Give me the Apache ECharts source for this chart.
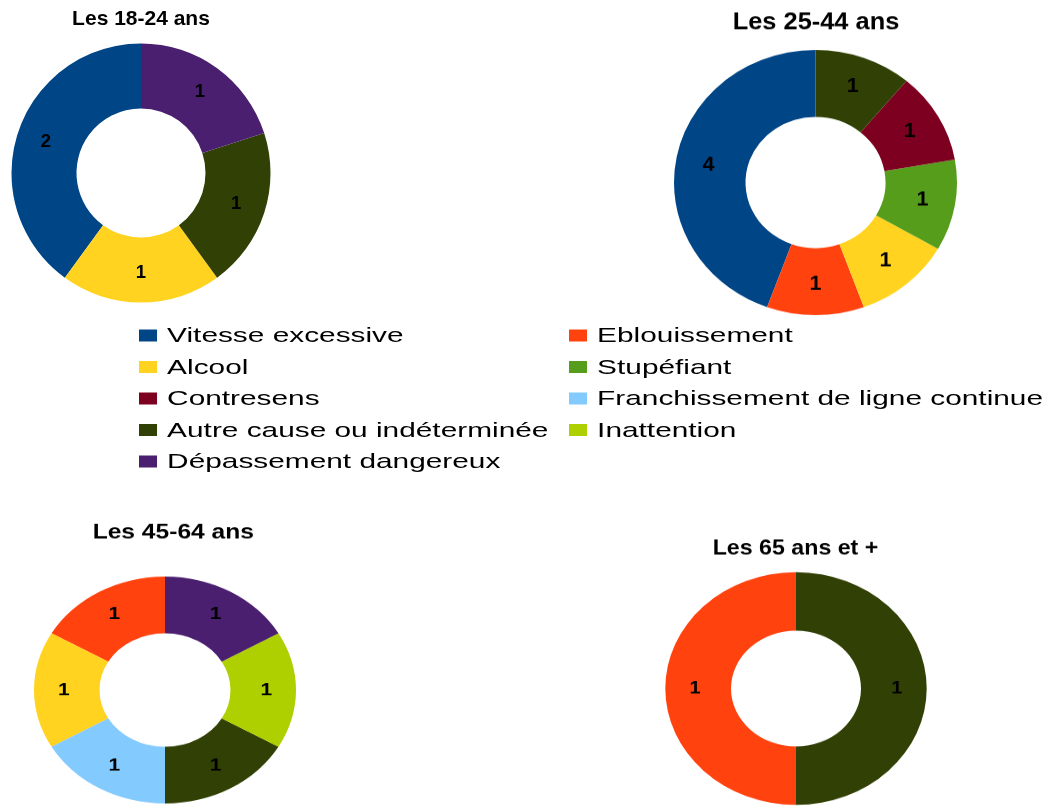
<!DOCTYPE html>
<html><head><meta charset="utf-8">
<script src="https://cdn.jsdelivr.net/npm/echarts@6/dist/echarts.min.js"></script>
<style>
html,body{margin:0;padding:0;background:#fff;}
#wrap{position:relative;width:1048px;height:807px;overflow:hidden;background:#fff;}
.layer{position:absolute;left:0;top:0;width:1048px;height:960px;pointer-events:none;}
</style></head><body>
<div id="wrap">
  <div id="c1" class="layer"></div>
  <div id="c2" class="layer"></div>
  <div id="c3" class="layer"></div>
  <div id="c4" class="layer"></div>
</div>
<script>
// ---- DATA ----
const categories = [
  'Vitesse excessive', 'Eblouissement', 'Alcool', 'Stupéfiant', 'Contresens',
  'Franchissement de ligne continue', 'Autre cause ou indéterminée', 'Inattention',
  'Dépassement dangereux'
];
const titles = ['Les 18-24 ans', 'Les 25-44 ans', 'Les 45-64 ans', 'Les 65 ans et +'];
const values18to24 = [2, 0, 1, 0, 0, 0, 1, 0, 1];
const values25to44 = [4, 1, 1, 1, 1, 0, 1, 0, 0];
const values45to64 = [0, 1, 1, 0, 0, 1, 1, 1, 1];
const values65plus = [0, 1, 0, 0, 0, 0, 1, 0, 0];

// ---- STYLE / LAYOUT ----
const colors = ['#004586', '#ff420e', '#ffd320', '#579d1c', '#7e0021', '#83caff', '#314004', '#aecf00', '#4b1f6f'];
const FONT = 'Liberation Sans, Arial, sans-serif';
const layouts = [
  { el: 'c1', values: values18to24, cx: 141,   cy: 173,   r0: 64.5, r: 129.5, k: 1,     titleX: 141,   titleY: 19,  titleSize: 21,   labelSize: 18.5, legend: true },
  { el: 'c2', values: values25to44, cx: 815.5, cy: 182.5, r0: 70,   r: 141.5, k: 0.937, titleX: 816,   titleY: 12,  titleSize: 25.4, labelSize: 21.5 },
  { el: 'c3', values: values45to64, cx: 165,   cy: 690,   r0: 65.5, r: 131,   k: 0.866, titleX: 173.3, titleY: 508, titleSize: 24.6, labelSize: 21 },
  { el: 'c4', values: values65plus, cx: 796,   cy: 688.5, r0: 65,   r: 130.7, k: 0.89,  titleX: 795.5, titleY: 532, titleSize: 23.2, labelSize: 20 }
];

function legendGraphic() {
  const colX = [139, 569];
  const y0 = 335.5, gap = 31.5, stretch = 1.42;
  return categories.map((name, i) => ({
    type: 'group',
    x: colX[i % 2],
    y: y0 + Math.floor(i / 2) * gap,
    scaleX: stretch,
    children: [
      { type: 'rect', shape: { x: 0, y: -6, width: 12.7, height: 12 }, style: { fill: colors[i] } },
      { type: 'text', x: 19.8, y: 1,
        style: { text: name, fontSize: 21, fontFamily: FONT, fill: '#000', align: 'left', verticalAlign: 'middle' } }
    ]
  }));
}

layouts.forEach((L, idx) => {
  const dom = document.getElementById(L.el);
  if (L.k !== 1) {
    dom.style.transformOrigin = '0 ' + L.cy + 'px';
    dom.style.transform = 'scaleY(' + L.k + ')';
  }
  const chart = echarts.init(dom, null, { renderer: 'canvas' });
  const data = categories
    .map((name, i) => ({ name: name, value: L.values[i], itemStyle: { color: colors[i] } }))
    .filter(d => d.value > 0);
  const option = {
    backgroundColor: 'transparent',
    animation: false,
    title: {
      text: titles[idx],
      left: L.titleX, top: L.titleY, padding: 0,
      textAlign: 'center', textVerticalAlign: 'middle',
      textStyle: { fontFamily: FONT, fontWeight: 'bold', fontSize: L.titleSize, color: '#000' }
    },
    series: [{
      type: 'pie',
      center: [L.cx, L.cy],
      radius: [L.r0, L.r],
      startAngle: 90,
      clockwise: false,
      avoidLabelOverlap: false,
      silent: true,
      itemStyle: { borderWidth: 0, borderRadius: 0 },
      label: {
        show: true, position: 'inside', formatter: '{c}',
        fontFamily: FONT, fontWeight: 'bold', fontSize: L.labelSize, color: '#000',
        textBorderWidth: 0, textShadowBlur: 0
      },
      labelLine: { show: false },
      emphasis: { disabled: true },
      data: data
    }]
  };
  if (L.legend) option.graphic = legendGraphic();
  chart.setOption(option);
});
</script>
</body></html>
